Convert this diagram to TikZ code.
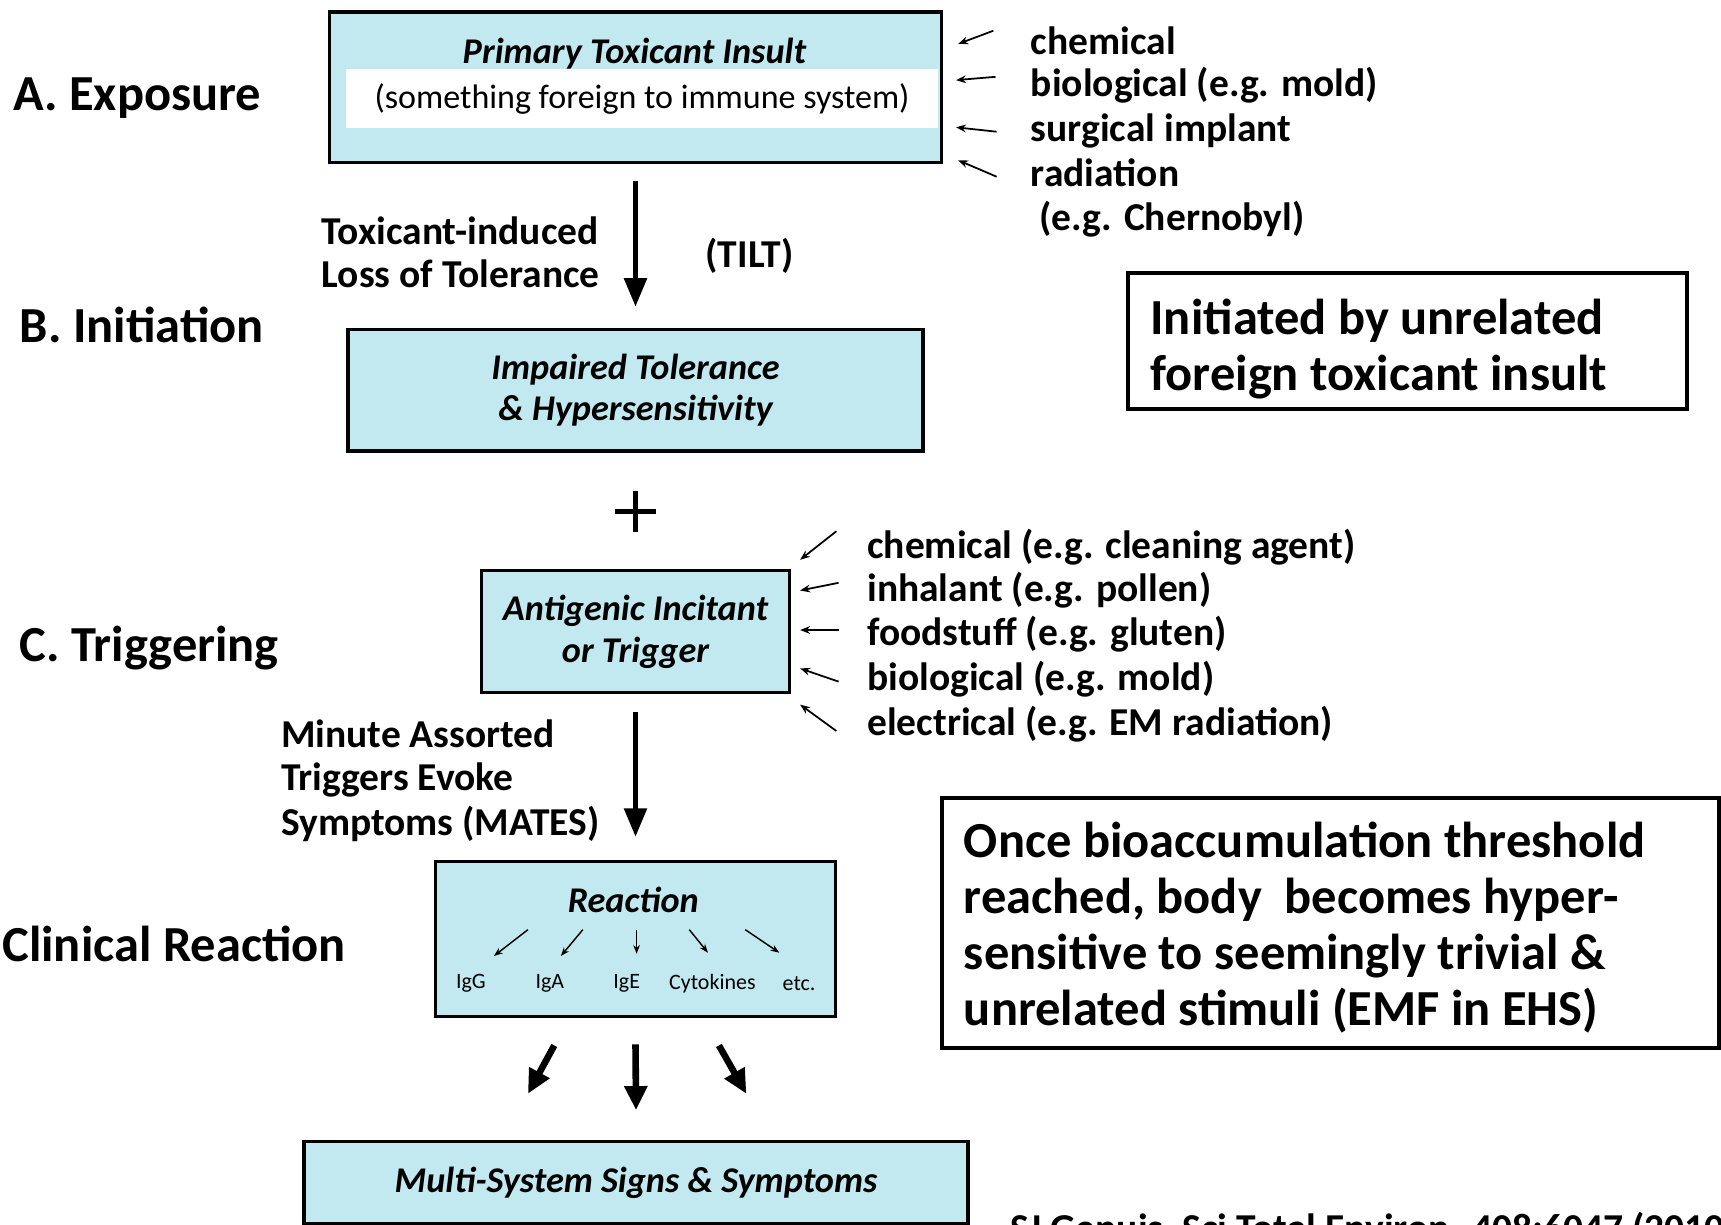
\documentclass[tikz,border=0pt]{standalone}
\usepackage{fontspec}
\setmainfont{Carlito}
\usetikzlibrary{arrows.meta,calc}
\definecolor{boxfill}{RGB}{194,233,239}
\newcommand\fHead{\fontsize{46}{51}\selectfont\bfseries}
\newcommand\fLab{\fontsize{36}{40}\selectfont\bfseries}
\newcommand\fTitle{\fontsize{33}{38}\selectfont\bfseries\itshape}
\newcommand\fBand{\fontsize{31}{36}\selectfont}
\newcommand\fSub{\fontsize{20}{24}\selectfont}
\newcommand\fCite{\fontsize{36}{40}\selectfont\bfseries}
\begin{document}
\begin{tikzpicture}[x=1pt,y=-1pt,
  head/.style={font=\fHead, inner sep=0pt, anchor=mid west, yshift=-13pt},
  lab/.style={font=\fLab, inner sep=0pt, anchor=mid west, yshift=-10.5pt},
  stepbox/.style={draw, line width=3pt, fill=boxfill, inner sep=0pt},
  ttl/.style={font=\fTitle, inner sep=0pt, align=center},
  sub/.style={font=\fSub, inner sep=0pt},
  notebox/.style={draw, line width=3.5pt, fill=white, inner sep=0pt},
  mainarr/.style={line width=5pt, -{Triangle[width=20pt,length=26pt]}},
  fatarr/.style={line width=6pt, -{Triangle[width=20pt,length=22pt]}},
  thinarr/.style={line width=1.6pt, -{Stealth[width=7pt,length=9pt]}},
  tinyarr/.style={line width=1.3pt, -{Stealth[width=6pt,length=8pt]}}]
\clip (0,0) rectangle (1568,1116);
\fill[white] (0,0) rectangle (1568,1116);

% ---------- left stage labels
\node[head] (lA) at (12,85) {A. Exposure};
\node[head] (lB) at (18,297) {B. Initiation};
\node[head] (lC) at (18,587) {C. Triggering};
\node[head] (lD) at (2,861) {Clinical Reaction};

% ---------- box 1
\node[stepbox, minimum width=558pt, minimum height=137pt] (b1) at (579,79.5) {};
\node[ttl] (b1t) at (578,49) {Primary Toxicant Insult};
\node[fill=white, minimum width=540pt, minimum height=54pt, inner sep=0pt, font=\fBand] (band) at (585,90) {(something foreign to immune system)};

% exposure sources
\node[lab] (e1) at (939,37) {chemical};
\node[lab] (e2) at (939,75) {biological (e.g. mold)};
\node[lab] (e3) at (939,116) {surgical implant};
\node[lab] (e4) at (939,157) {radiation};
\node[lab] (e5) at (947,197) {(e.g. Chernobyl)};
\coordinate (e1s) at (905,28);  \coordinate (e1t) at (873,40);
\coordinate (e2s) at (907,70);  \coordinate (e2t) at (871,73);
\coordinate (e3s) at (908,120); \coordinate (e3t) at (871,116);
\coordinate (e4s) at (908,161); \coordinate (e4t) at (873,146);
\draw[thinarr] (e1s) -- (e1t);
\draw[thinarr] (e2s) -- (e2t);
\draw[thinarr] (e3s) -- (e3t);
\draw[thinarr] (e4s) -- (e4t);

% ---------- TILT
\node[lab] (tl1) at (293,210) {Toxicant-induced};
\node[lab] (tl2) at (293,249) {Loss of Tolerance};
\node[lab, anchor=mid] (tilt) at (683,231) {(TILT)};

% ---------- box 2
\node[stepbox, minimum width=524pt, minimum height=111pt, ttl] (b2) at (579,355.5) {Impaired Tolerance\\\& Hypersensitivity};
\draw[mainarr] ($(b1.south)+(0,15)$) -- ($(b2.north)+(0,-19)$);

% note A
\node[notebox, minimum width=509pt, minimum height=124pt] (nA) at (1282.5,311) {};
\node[head] (nA1) at (1048,289) {Initiated by unrelated};
\node[head] (nA2) at (1048,340) {foreign toxicant insult};

% ---------- plus
\coordinate (pc) at (579,466);
\draw[line width=5pt] ($(pc)+(-19,0)$) -- ($(pc)+(19,0)$) ($(pc)+(0,-19)$) -- ($(pc)+(0,19)$);

% ---------- box 3
\node[stepbox, minimum width=280pt, minimum height=111pt, ttl] (b3) at (579,575.5) {Antigenic Incitant\\or Trigger};

\node[lab] (c1) at (790,496) {chemical (e.g. cleaning agent)};
\node[lab] (c2) at (790,535) {inhalant (e.g. pollen)};
\node[lab] (c3) at (790,575) {foodstuff (e.g. gluten)};
\node[lab] (c4) at (790,616) {biological (e.g. mold)};
\node[lab] (c5) at (790,657) {electrical (e.g. EM radiation)};
\coordinate (c1s) at (762,484); \coordinate (c1t) at (729,510);
\coordinate (c2s) at (764,531); \coordinate (c2t) at (729,538);
\coordinate (c3s) at (764,574); \coordinate (c3t) at (729,574);
\coordinate (c4s) at (764,621); \coordinate (c4t) at (729,609);
\coordinate (c5s) at (762,666); \coordinate (c5t) at (729,642);
\draw[thinarr] (c1s) -- (c1t);
\draw[thinarr] (c2s) -- (c2t);
\draw[thinarr] (c3s) -- (c3t);
\draw[thinarr] (c4s) -- (c4t);
\draw[thinarr] (c5s) -- (c5t);

% ---------- MATES
\node[lab] (m1) at (256,668) {Minute Assorted};
\node[lab] (m2) at (256,707) {Triggers Evoke};
\node[lab] (m3) at (256,748) {Symptoms (MATES)};

% ---------- box 4
\node[stepbox, minimum width=364pt, minimum height=141pt] (b4) at (579,855.5) {};
\draw[mainarr] ($(b3.south)+(0,16)$) -- ($(b4.north)+(0,-21)$);
\node[ttl] (b4t) at (577,820) {Reaction};
\node[sub] (r1) at (429,896) {IgG};
\node[sub] (r2) at (501,896) {IgA};
\node[sub] (r3) at (571,896) {IgE};
\node[sub] (r4) at (649,896) {Cytokines};
\node[sub] (r5) at (728,896) {etc.};
\coordinate (r1s) at (481,847); \coordinate (r1t) at (450,871);
\coordinate (r2s) at (531,847); \coordinate (r2t) at (511,871);
\coordinate (r3s) at (580,847); \coordinate (r3t) at (580,869);
\coordinate (r4s) at (628,847); \coordinate (r4t) at (645,868);
\coordinate (r5s) at (679,847); \coordinate (r5t) at (710,868);
\draw[tinyarr] (r1s) -- (r1t);
\draw[tinyarr] (r2s) -- (r2t);
\draw[tinyarr] (r3s) -- (r3t);
\draw[tinyarr] (r4s) -- (r4t);
\draw[tinyarr] (r5s) -- (r5t);

% note B
\node[notebox, line width=4pt, minimum width=708pt, minimum height=228pt] (nB) at (1212,841) {};
\node[head] (nB1) at (878,766) {Once bioaccumulation threshold};
\node[head] (nB2) at (878,817) {reached, body\ \ becomes hyper-};
\node[head] (nB3) at (878,868) {sensitive to seemingly trivial \&};
\node[head] (nB4) at (878,919) {unrelated stimuli (EMF in EHS)};

% ---------- box 5
\node[stepbox, minimum width=605pt, minimum height=75pt, ttl] (b5) at (579.5,1077.5) {Multi-System Signs \& Symptoms};
\draw[fatarr] ($(b4.south)+(-74,25)$) -- ($(b5.north)+(-98.5,-42)$);
\draw[fatarr] ($(b4.south)+(0,24)$) -- ($(b5.north)+(0,-27)$);
\draw[fatarr] ($(b4.south)+(76,25)$) -- ($(b5.north)+(100.5,-42)$);

% ---------- citation (cut by the lower edge, as in the original)
\node[font=\fCite, inner sep=0pt, anchor=base west] (cite) at (920,1131) {SJ Genuis, Sci Total Environ. 408:6047 (2010)};
\end{tikzpicture}
\end{document}
